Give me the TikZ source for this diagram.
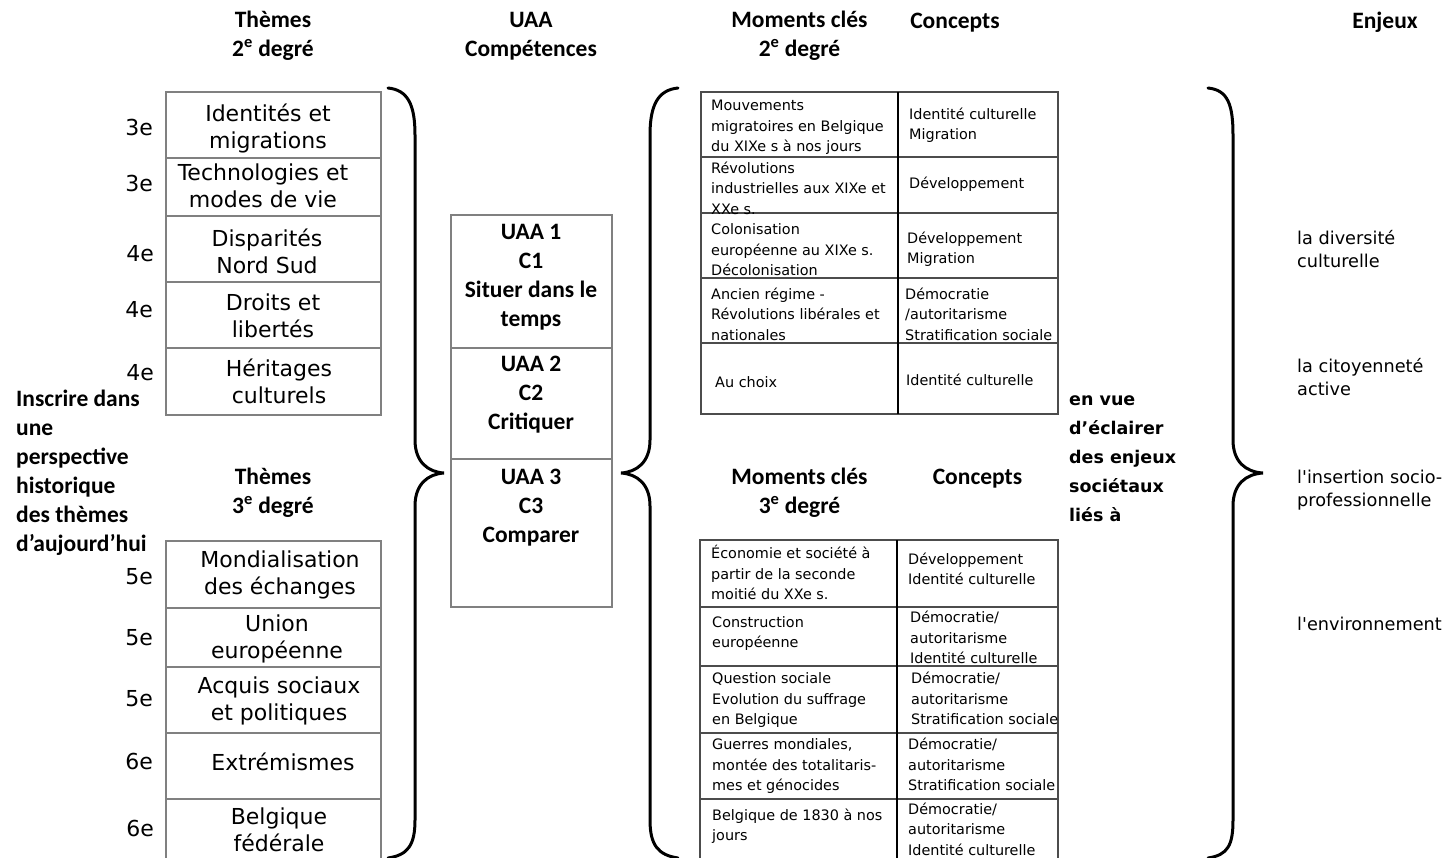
\documentclass[tikz,border=0pt]{standalone}
\usepackage{fontspec}
\setmainfont{DejaVu Sans}[Ligatures=TeXOff]
\newfontfamily\calb{Carlito}
\tikzset{
  hdr/.style={font=\calb\bfseries\fontsize{23.5}{29}\selectfont, align=center, inner sep=0pt, yshift=-2.5pt},
  lhdr/.style={font=\calb\bfseries\fontsize{23.5}{29}\selectfont, align=left, anchor=west, inner sep=0pt, yshift=-2.5pt},
  theme/.style={font=\fontsize{22}{27}\selectfont, align=center, inner sep=0pt, yshift=-2.5pt},
  grade/.style={font=\fontsize{22}{27}\selectfont, anchor=east, inner sep=0pt},
  cell/.style={font=\fontsize{14.4}{20.5}\selectfont, align=left, anchor=west, inner sep=0pt, yshift=-2pt},
  enj/.style={font=\fontsize{17.7}{23}\selectfont, align=left, anchor=west, inner sep=0pt, yshift=-2.5pt},
  vue/.style={font=\bfseries\fontsize{17.5}{29}\selectfont, align=left, anchor=west, inner sep=0pt, yshift=-2pt},
  boxline/.style={draw=black!50, line width=1.3pt},
  tabline/.style={draw=black!70, line width=1.2pt},
  brace/.style={draw=black, line width=3pt, line cap=round}
}
\begin{document}
\begin{tikzpicture}[x=1pt,y=-1pt]
\useasboundingbox (0,0) rectangle (1451,857);
\clip (0,0) rectangle (1451,857);
\fill[white] (0,0) rectangle (1451,857);

% ---- headers
\node[hdr] (h1) at (273,34) {\strut Thèmes\\\strut 2\textsuperscript{e} degré};
\node[hdr] (h2) at (531,34) {\strut UAA\\\strut Compétences};
\node[hdr] (h3) at (799.5,34) {\strut Moments clés\\\strut 2\textsuperscript{e} degré};
\node[hdr] (h4) at (955,20) {\strut Concepts};
\node[hdr] (h5) at (1385,20) {\strut Enjeux};
\node[hdr] (h6) at (273,490.5) {\strut Thèmes\\\strut 3\textsuperscript{e} degré};
\node[hdr] (h7) at (799.5,490.5) {\strut Moments clés\\\strut 3\textsuperscript{e} degré};
\node[hdr] (h8) at (977.5,476) {\strut Concepts};

% ---- left side text
\node[lhdr] (insc) at (16,470.5) {\strut Inscrire dans\\\strut une\\\strut perspective\\\strut historique\\\strut des thèmes\\\strut d’aujourd’hui};

% ---- theme boxes 2e degre
\draw[boxline] (166,92) rectangle (381,415);
\foreach \yy in {158,216,282,348} \draw[boxline] (166,\yy) -- (381,\yy);
\node[theme] (t1) at (268,127.5) {\strut Identités et\\\strut migrations};
\node[theme] (t2) at (263,186.5) {\strut Technologies et\\\strut modes de vie};
\node[theme] (t3) at (267,252.5) {\strut Disparités\\\strut Nord Sud};
\node[theme] (t4) at (273,316.5) {\strut Droits et\\\strut libertés};
\node[theme] (t5) at (279,382.5) {\strut Héritages\\\strut culturels};
\node[grade] (g1) at (153,127.5) {3e};
\node[grade] (g2) at (153,183) {3e};
\node[grade] (g3) at (154,254) {4e};
\node[grade] (g4) at (153,310) {4e};
\node[grade] (g5) at (154,373) {4e};

% ---- theme boxes 3e degre
\draw[boxline] (166,541) rectangle (381,880);
\foreach \yy in {608,667,733,799} \draw[boxline] (166,\yy) -- (381,\yy);
\node[theme] (t6) at (280,573.5) {\strut Mondialisation\\\strut des échanges};
\node[theme] (t7) at (277,637.5) {\strut Union\\\strut européenne};
\node[theme] (t8) at (279,699.5) {\strut Acquis sociaux\\\strut et politiques};
\node[theme] (t9) at (283,763) {\strut Extrémismes};
\node[theme] (t10) at (279,830.5) {\strut Belgique\\\strut fédérale};
\node[grade] (g6) at (153,577) {5e};
\node[grade] (g7) at (153,638) {5e};
\node[grade] (g8) at (153,699) {5e};
\node[grade] (g9) at (153,761) {6e};
\node[grade] (g10) at (154,828) {6e};

% ---- braces
\draw[brace] (388,88) .. controls (408,90) and (415,105) .. (415,135) -- (415,440)
  .. controls (415,462) and (428,472) .. (444,473) .. controls (428,474) and (415,484) .. (415,506)
  -- (415,820) .. controls (415,845) and (408,855) .. (388,858);
\draw[brace] (678,88) .. controls (658,90) and (650,105) .. (650,135) -- (650,440)
  .. controls (650,462) and (637,472) .. (621,473) .. controls (637,474) and (650,484) .. (650,506)
  -- (650,820) .. controls (650,845) and (658,855) .. (678,858);
\draw[brace] (1208,88) .. controls (1228,90) and (1233,105) .. (1233,135) -- (1233,440)
  .. controls (1233,462) and (1246,472) .. (1263,473) .. controls (1246,474) and (1233,484) .. (1233,506)
  -- (1233,820) .. controls (1233,845) and (1228,855) .. (1208,858);

% ---- UAA box
\draw[boxline] (451,215) rectangle (612,607);
\draw[boxline] (451,348) -- (612,348);
\draw[boxline] (451,459) -- (612,459);
\node[hdr] (u1) at (531,275) {\strut UAA 1\\\strut C1\\\strut Situer dans le\\\strut temps};
\node[hdr] (u2) at (531,392.5) {\strut UAA 2\\\strut C2\\\strut Critiquer};
\node[hdr] (u3) at (531,505) {\strut UAA 3\\\strut C3\\\strut Comparer};

% ---- top table
\draw[tabline] (701,92) rectangle (1058,414);
\foreach \yy in {157,213,278,343} \draw[tabline] (701,\yy) -- (1058,\yy);
\draw[draw=black, line width=1.5pt] (898,92) -- (898,414);
\node[cell] (a1) at (711,125) {\strut Mouvements\\\strut migratoires en Belgique\\\strut du XIXe s à nos jours};
\node[cell] (b1) at (909,123.5) {\strut Identité culturelle\\\strut Migration};
\node[cell] (a2) at (711,187.5) {\strut Révolutions\\\strut industrielles aux XIXe et\\\strut XXe s.};
\node[cell] (b2) at (909,182) {\strut Développement};
\node[cell] (a3) at (711,249) {\strut Colonisation\\\strut européenne au XIXe s.\\\strut Décolonisation};
\node[cell] (b3) at (907,247.5) {\strut Développement\\\strut Migration};
\node[cell] (a4) at (711,313.5) {\strut Ancien régime -\\\strut Révolutions libérales et\\\strut nationales};
\node[cell] (b4) at (905,313.5) {\strut Démocratie\\\strut /autoritarisme\\\strut Stratification sociale};
\node[cell] (a5) at (715,381) {\strut Au choix};
\node[cell] (b5) at (906,379) {\strut Identité culturelle};

% ---- bottom table
\draw[tabline] (700,540) rectangle (1058,880);
\foreach \yy in {607,666,733,799} \draw[tabline] (700,\yy) -- (1058,\yy);
\draw[draw=black, line width=1.5pt] (897,540) -- (897,880);
\node[cell] (c1) at (711,573) {\strut Économie et société à\\\strut partir de la seconde\\\strut moitié du XXe s.};
\node[cell] (d1) at (908,568.5) {\strut Développement\\\strut Identité culturelle};
\node[cell] (c2) at (712,631.5) {\strut Construction\\\strut européenne};
\node[cell] (d2) at (910,637) {\strut Démocratie/\\\strut autoritarisme\\\strut Identité culturelle};
\node[cell] (c3) at (712,698) {\strut Question sociale\\\strut Evolution du suffrage\\\strut en Belgique};
\node[cell] (d3) at (911,698) {\strut Démocratie/\\\strut autoritarisme\\\strut Stratification sociale};
\node[cell] (c4) at (712,764) {\strut Guerres mondiales,\\\strut montée des totalitaris-\\\strut mes et génocides};
\node[cell] (d4) at (908,764) {\strut Démocratie/\\\strut autoritarisme\\\strut Stratification sociale};
\node[cell] (c5) at (712,824.5) {\strut Belgique de 1830 à nos\\\strut jours};
\node[cell] (d5) at (908,828.5) {\strut Démocratie/\\\strut autoritarisme\\\strut Identité culturelle};

% ---- right side
\node[vue] (vue) at (1069,456) {\strut en vue\\\strut d’éclairer\\\strut des enjeux\\\strut sociétaux\\\strut liés à};
\node[enj] (e1) at (1297,248.5) {\strut la diversité\\\strut culturelle};
\node[enj] (e2) at (1297,376.5) {\strut la citoyenneté\\\strut active};
\node[enj] (e3) at (1297,487.5) {\strut l'insertion socio-\\\strut professionnelle};
\node[enj] (e4) at (1297,623) {\strut l'environnement};
\end{tikzpicture}
\end{document}
